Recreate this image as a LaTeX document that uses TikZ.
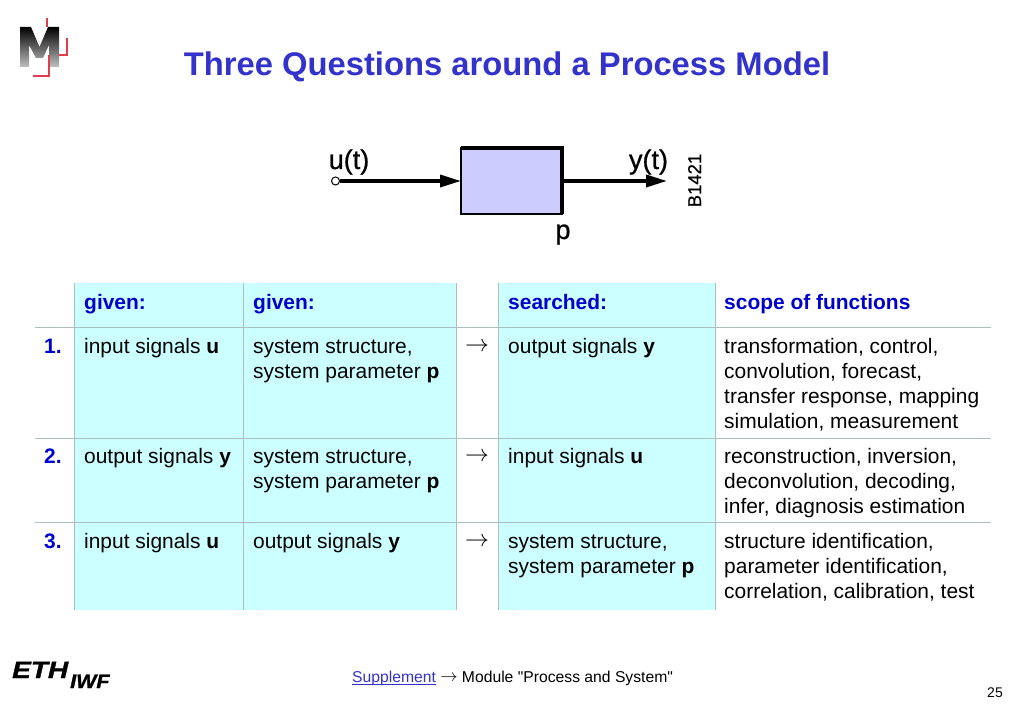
\documentclass[tikz,border=0pt]{standalone}
\usepackage{fontspec}
\setmainfont{Liberation Sans}
\newfontfamily\notefont{Liberation Sans}
\newfontfamily\sigfont[FakeBold=0.8]{Liberation Sans}
\newfontfamily\ethfont[FakeStretch=1.19,FakeBold=1.5]{Liberation Sans}
\newfontfamily\iwffont[FakeStretch=1.1,FakeBold=1.5]{Liberation Sans}
\usetikzlibrary{arrows.meta}
\definecolor{titleblue}{RGB}{51,51,204}
\definecolor{headblue}{RGB}{0,0,204}
\definecolor{cellcyan}{RGB}{204,255,255}
\definecolor{gridgray}{RGB}{170,190,190}
\definecolor{boxblue}{RGB}{204,204,255}
\definecolor{logored}{RGB}{225,60,75}
\tikzset{
	cell/.style={anchor=north west,inner sep=0pt,align=left,font=\fontsize{20.95}{25}\selectfont},
	head/.style={cell,text=headblue,font=\fontsize{20.95}{25}\selectfont\bfseries},
	signal/.style={inner sep=0pt,font=\fontsize{27}{32}\sigfont},
	sigline/.style={line width=3.5pt,-{Triangle[length=21pt,width=12pt]}},
	logoline/.style={logored,line width=1.7pt},
	grid/.style={gridgray,line width=0.7pt}
}
\newcommand{\st}{\rule{0pt}{18pt}}
\newcommand{\rowarrow}{\raisebox{1.5pt}{\scalebox{1.15}{$\rightarrow$}}}
\begin{document}
\begin{tikzpicture}[x=1pt,y=-1pt]
	\useasboundingbox (0,0) rectangle (1023,708);
	% logo
	\shade[top color=black,bottom color=black!25] (20,27) -- (31,27) -- (39.5,47) -- (48,27) -- (59,27) -- (59,67) -- (49,67) -- (49,45) -- (43,58) -- (36,58) -- (29,45) -- (29,67) -- (20,67) -- cycle;
	\draw[logoline] (47,18) -- (47,27);
	\draw[logoline] (67,38) -- (67,55) -- (59,55);
	\draw[logoline] (49,55) -- (49,76) -- (33,76);
	\node[anchor=base,text=titleblue,inner sep=0pt,font=\fontsize{32.76}{38}\selectfont\bfseries] (title) at (507,75.5) {Three Questions around a Process Model};
	% block diagram
	\node[draw,fill=boxblue,line width=1.5pt,outer sep=0pt,minimum width=101pt,minimum height=66pt,inner sep=0pt] (sys) at (511.5,181) {};
	\draw[line width=3.5pt] (sys.north west) -- (sys.north east) -- (sys.south east);
	\node[draw,circle,fill=white,line width=1pt,minimum size=8pt,inner sep=0pt] (uin) at (335.5,181) {};
	\coordinate (yout) at (667,181);
	\draw[sigline] (uin) -- (sys);
	\draw[sigline] (sys) -- (yout);
	\node[signal,anchor=base] (ulabel) at (349,169) {u(t)};
	\node[signal,anchor=base] (ylabel) at (648.5,169) {y(t)};
	\node[signal,anchor=base] (plabel) at (563,239) {p};
	\node[inner sep=0pt,rotate=90,anchor=base,font=\fontsize{18.5}{22}\sigfont] (code) at (701,180.5) {B1421};
	% table
	\fill[cellcyan] (74,283) rectangle (456,610);
	\fill[cellcyan] (498,283) rectangle (715,610);
	\foreach \x in {74,243,456,498,715}{
		\draw[grid] (\x,283) -- (\x,610);
	}
	\foreach \y in {327,438,522}{
		\draw[grid] (35,\y) -- (991,\y);
	}
	\node[head] (h1) at (84,291) {\st given:};
	\node[head] (h2) at (253,291) {\st given:};
	\node[head] (h3) at (508,291) {\st searched:};
	\node[head] (h4) at (724,291) {\st scope of functions};
	% row 1
	\node[head] (n1) at (44,335) {\st 1.};
	\node[cell] (a1) at (84,335) {\st input signals \textbf{u}};
	\node[cell] (b1) at (253,335) {\st system structure,\\system parameter \textbf{p}};
	\node[cell] (c1) at (465,335) {\st \rowarrow};
	\node[cell] (d1) at (508,335) {\st output signals \textbf{y}};
	\node[cell] (e1) at (724,335) {\st transformation, control,\\convolution, forecast,\\transfer response, mapping\\simulation, measurement};
	% row 2
	\node[head] (n2) at (44,445) {\st 2.};
	\node[cell] (a2) at (84,445) {\st output signals \textbf{y}};
	\node[cell] (b2) at (253,445) {\st system structure,\\system parameter \textbf{p}};
	\node[cell] (c2) at (465,445) {\st \rowarrow};
	\node[cell] (d2) at (508,445) {\st input signals \textbf{u}};
	\node[cell] (e2) at (724,445) {\st reconstruction, inversion,\\deconvolution, decoding,\\infer, diagnosis estimation};
	% row 3
	\node[head] (n3) at (44,530) {\st 3.};
	\node[cell] (a3) at (84,530) {\st input signals \textbf{u}};
	\node[cell] (b3) at (253,530) {\st output signals \textbf{y}};
	\node[cell] (c3) at (465,530) {\st \rowarrow};
	\node[cell] (d3) at (508,530) {\st system structure,\\system parameter \textbf{p}};
	\node[cell] (e3) at (724,530) {\st structure identification,\\parameter identification,\\correlation, calibration, test};
	% footer
	\node[anchor=base west,inner sep=0pt,font=\fontsize{23.5}{28}\ethfont\bfseries\itshape] (eth) at (12,678) {ETH};
	\node[anchor=base west,inner sep=0pt,font=\fontsize{19.5}{23}\iwffont\bfseries\itshape] (iwf) at (70,688) {IWF};
	\node[anchor=base west,inner sep=0pt,font=\fontsize{15.7}{19}\notefont] (supp) at (352,682) {\textcolor{titleblue}{Supplement} \raisebox{0.5pt}{\scalebox{1.2}{$\rightarrow$}} Module "Process and System"};
	\draw[titleblue,line width=0.7pt] (352,684) -- (436,684);
	\node[anchor=base east,inner sep=0pt,font=\fontsize{14}{17}\selectfont] (page) at (1003,697) {25};
\end{tikzpicture}
\end{document}
